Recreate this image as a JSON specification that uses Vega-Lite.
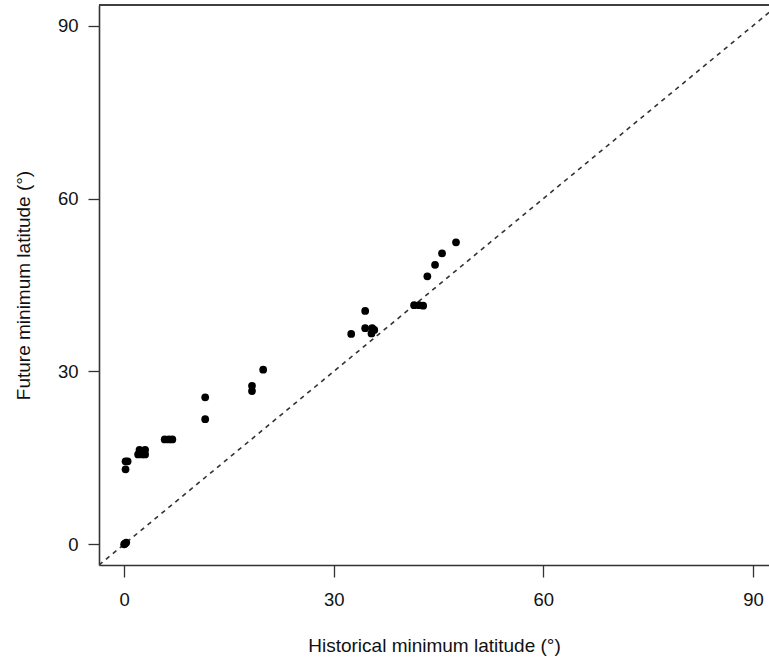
{
  "$schema": "https://vega.github.io/schema/vega-lite/v6.json",
  "width": 670,
  "height": 560,
  "autosize": {"type": "none"},
  "padding": {"left": 99, "top": 5, "right": 0, "bottom": 95},
  "background": "white",
  "config": {
    "view": {"stroke": null},
    "font": "Liberation Sans"
  },
  "datasets": {
    "species": [
      {"historical": 0.0, "future": 0.0},
      {"historical": 0.3, "future": 0.3},
      {"historical": 0.1, "future": 0.1},
      {"historical": 0.2, "future": 14.4},
      {"historical": 0.5, "future": 14.4},
      {"historical": 0.2, "future": 13.0},
      {"historical": 2.0, "future": 15.6},
      {"historical": 2.6, "future": 15.6},
      {"historical": 3.0, "future": 15.6},
      {"historical": 2.2, "future": 16.4},
      {"historical": 3.0, "future": 16.4},
      {"historical": 2.6, "future": 16.2},
      {"historical": 5.8, "future": 18.2},
      {"historical": 6.4, "future": 18.2},
      {"historical": 6.9, "future": 18.2},
      {"historical": 11.6, "future": 25.5},
      {"historical": 11.6, "future": 21.7},
      {"historical": 18.3, "future": 27.5},
      {"historical": 18.3, "future": 26.6},
      {"historical": 19.9, "future": 30.3},
      {"historical": 32.5, "future": 36.5},
      {"historical": 34.5, "future": 40.5},
      {"historical": 34.5, "future": 37.5},
      {"historical": 35.5, "future": 37.5},
      {"historical": 35.4, "future": 36.6},
      {"historical": 35.8, "future": 37.2},
      {"historical": 41.5, "future": 41.5},
      {"historical": 42.2, "future": 41.5},
      {"historical": 42.8, "future": 41.4},
      {"historical": 43.4, "future": 46.5},
      {"historical": 44.5, "future": 48.5},
      {"historical": 45.5, "future": 50.5},
      {"historical": 47.5, "future": 52.4}
    ],
    "identity": [
      {"historical": -3.6, "future": -3.6},
      {"historical": 93.6, "future": 93.6}
    ]
  },
  "layer": [
    {
      "data": {"name": "identity"},
      "mark": {"type": "line", "clip": true, "color": "#333333", "strokeWidth": 1.6, "strokeDash": [4.5, 4.5]},
      "encoding": {
        "x": {
          "field": "historical",
          "type": "quantitative",
          "scale": {"domain": [-3.6, 92.3], "nice": false, "zero": false},
          "axis": {
            "title": "Historical minimum latitude (°)",
            "values": [0, 30, 60, 90],
            "grid": false,
            "domainColor": "#333333",
            "domainWidth": 1.6,
            "tickColor": "#333333",
            "tickWidth": 1.3,
            "tickSize": 12,
            "labelPadding": 13,
            "labelFontSize": 18.5,
            "labelColor": "#111111",
            "titleFontSize": 19,
            "titleFontWeight": "normal",
            "titleColor": "#111111",
            "titlePadding": 28
          }
        },
        "y": {
          "field": "future",
          "type": "quantitative",
          "scale": {"domain": [-3.6, 93.6], "nice": false, "zero": false},
          "axis": {
            "title": "Future minimum latitude (°)",
            "values": [0, 30, 60, 90],
            "grid": false,
            "domainColor": "#333333",
            "domainWidth": 1.6,
            "tickColor": "#333333",
            "tickWidth": 1.3,
            "tickSize": 11,
            "labelPadding": 10,
            "labelFontSize": 18.5,
            "labelColor": "#111111",
            "titleFontSize": 19,
            "titleFontWeight": "normal",
            "titleColor": "#111111",
            "titlePadding": 24
          }
        }
      }
    },
    {
      "data": {"name": "species"},
      "mark": {"type": "circle", "color": "black", "opacity": 1, "size": 60},
      "encoding": {
        "x": {"field": "historical", "type": "quantitative"},
        "y": {"field": "future", "type": "quantitative"}
      }
    },
    {
      "data": {"name": "identity"},
      "mark": {"type": "rule", "color": "#333333", "strokeWidth": 1.6},
      "encoding": {
        "y": {"datum": 93.6, "type": "quantitative"}
      }
    }
  ]
}
